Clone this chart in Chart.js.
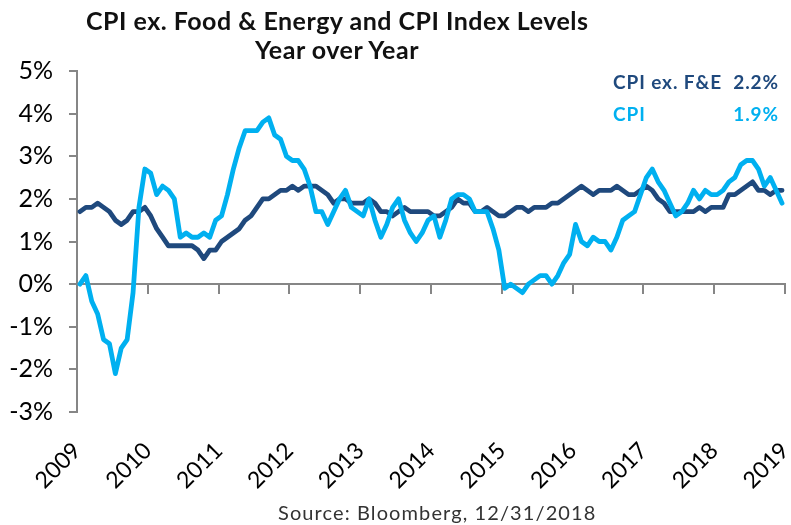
<!DOCTYPE html>
<html><head><meta charset="utf-8">
<script src="https://cdn.jsdelivr.net/npm/chart.js@4.4.1/dist/chart.umd.min.js"></script>
<style>
html,body{margin:0;padding:0;background:#fff;}
#wrap{position:relative;width:791px;height:525px;overflow:hidden;font-family:Lato,"DejaVu Sans",sans-serif;}
canvas{position:absolute;left:0;top:0;}
.t{position:absolute;white-space:nowrap;line-height:1;}
#title{left:86px;width:502px;top:6px;text-align:center;font-weight:700;font-size:25px;letter-spacing:0.5px;color:#111;line-height:29px;}
#leg{left:613px;width:166px;top:66px;font-weight:700;font-size:19px;letter-spacing:0.9px;line-height:32px;}
.row{display:flex;justify-content:space-between;}
#src{left:278px;top:502px;font-size:20px;letter-spacing:1.1px;color:#333;}
</style></head><body>
<div id="wrap">
<canvas id="c" width="791" height="525"></canvas>
<div class="t" id="title">CPI ex. Food &amp; Energy and CPI Index Levels<br>Year over Year</div>
<div class="t" id="leg">
  <div class="row" style="color:#1F497D"><span>CPI ex. F&amp;E</span><span>2.2%</span></div>
  <div class="row" style="color:#00B0F0"><span>CPI</span><span>1.9%</span></div>
</div>
<div class="t" id="src">Source: Bloomberg, 12/31/2018</div>
</div>
<script>
// Year tick labels (axis boundaries)
const yearLabels = ['2009','2010','2011','2012','2013','2014','2015','2016','2017','2018','2019'];

// Monthly YoY %, Jan 2009 .. Dec 2018
const coreCPI = [
  1.7,1.8,1.8,1.9,1.8,1.7,1.5,1.4,1.5,1.7,1.7,1.8,
  1.6,1.3,1.1,0.9,0.9,0.9,0.9,0.9,0.8,0.6,0.8,0.8,
  1.0,1.1,1.2,1.3,1.5,1.6,1.8,2.0,2.0,2.1,2.2,2.2,
  2.3,2.2,2.3,2.3,2.3,2.2,2.1,1.9,2.0,2.0,1.9,1.9,
  1.9,2.0,1.9,1.7,1.7,1.6,1.7,1.8,1.7,1.7,1.7,1.7,
  1.6,1.6,1.7,1.8,2.0,1.9,1.9,1.7,1.7,1.8,1.7,1.6,
  1.6,1.7,1.8,1.8,1.7,1.8,1.8,1.8,1.9,1.9,2.0,2.1,
  2.2,2.3,2.2,2.1,2.2,2.2,2.2,2.3,2.2,2.1,2.1,2.2,
  2.3,2.2,2.0,1.9,1.7,1.7,1.7,1.7,1.7,1.8,1.7,1.8,
  1.8,1.8,2.1,2.1,2.2,2.3,2.4,2.2,2.2,2.1,2.2,2.2
];
const headlineCPI = [
  0.0,0.2,-0.4,-0.7,-1.3,-1.4,-2.1,-1.5,-1.3,-0.2,1.8,2.7,
  2.6,2.1,2.3,2.2,2.0,1.1,1.2,1.1,1.1,1.2,1.1,1.5,
  1.6,2.1,2.7,3.2,3.6,3.6,3.6,3.8,3.9,3.5,3.4,3.0,
  2.9,2.9,2.7,2.3,1.7,1.7,1.4,1.7,2.0,2.2,1.8,1.7,
  1.6,2.0,1.5,1.1,1.4,1.8,2.0,1.5,1.2,1.0,1.2,1.5,
  1.6,1.1,1.5,2.0,2.1,2.1,2.0,1.7,1.7,1.7,1.3,0.8,
  -0.1,0.0,-0.1,-0.2,0.0,0.1,0.2,0.2,0.0,0.2,0.5,0.7,
  1.4,1.0,0.9,1.1,1.0,1.0,0.8,1.1,1.5,1.6,1.7,2.1,
  2.5,2.7,2.4,2.2,1.9,1.6,1.7,1.9,2.2,2.0,2.2,2.1,
  2.1,2.2,2.4,2.5,2.8,2.9,2.9,2.7,2.3,2.5,2.2,1.9
];

const navy = '#1F497D', sky = '#00B0F0', axisGray = '#868686';
const toPts = arr => arr.map((v, i) => ({x: i + 0.5, y: v}));
const FONT = 'Lato, "DejaVu Sans", sans-serif';

new Chart(document.getElementById('c'), {
  type: 'line',
  data: {
    datasets: [
      {label: 'CPI', data: toPts(headlineCPI), borderColor: sky, borderWidth: 4.8, pointRadius: 0, tension: 0, order: 0, borderJoinStyle: 'round', borderCapStyle: 'round', xAxisID: 'x', yAxisID: 'y'},
      {label: 'CPI ex. F&E', data: toPts(coreCPI), borderColor: navy, borderWidth: 4.8, pointRadius: 0, tension: 0, order: 1, borderJoinStyle: 'round', borderCapStyle: 'round', xAxisID: 'x', yAxisID: 'y'}
    ]
  },
  options: {
    responsive: false, animation: false, devicePixelRatio: 1,
    layout: {padding: {left: 0, top: 71, right: 6, bottom: 33}},
    plugins: {legend: {display: false}, tooltip: {enabled: false}, title: {display: false}},
    scales: {
      x: {
        type: 'linear', position: 'bottom', min: 0, max: 120,
        ticks: {stepSize: 12, autoSkip: false, minRotation: 45, maxRotation: 45, padding: 25,
          callback: v => yearLabels[Math.round(v / 12)], color: '#000', font: {family: FONT, size: 23}},
        grid: {display: false, drawTicks: false}, border: {display: false},
        afterFit(s) { s.height = 80; s.paddingRight = 0; s.paddingLeft = 0; }
      },
      x0: {
        type: 'linear', position: {y: 0}, min: 0, max: 120,
        ticks: {display: false, stepSize: 12},
        grid: {drawOnChartArea: false, tickLength: 9, color: axisGray, lineWidth: 2},
        border: {color: axisGray, width: 2}
      },
      y: {
        min: -3, max: 5,
        ticks: {stepSize: 1, callback: v => v + '%', color: '#000', padding: 16, font: {family: FONT, size: 25}},
        grid: {drawOnChartArea: false, tickLength: 8, color: axisGray, lineWidth: 2},
        border: {color: axisGray, width: 2},
        afterFit(s) { s.width = 77; }
      }
    }
  }
});
</script>
</body></html>
